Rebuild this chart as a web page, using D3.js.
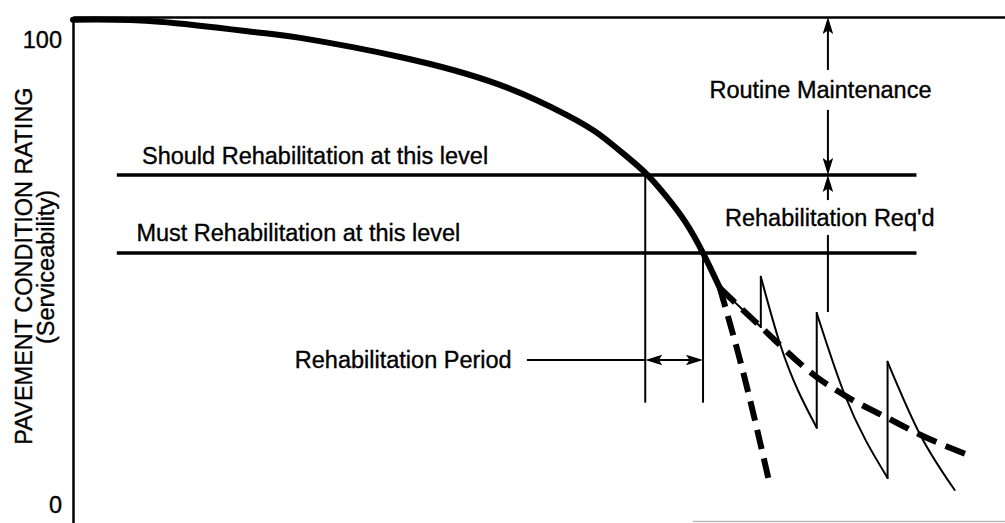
<!DOCTYPE html>
<html>
<head>
<meta charset="utf-8">
<script src="https://cdn.jsdelivr.net/npm/d3@7"></script>
<style>
  body { margin: 0; background: #fff; }
  svg { display: block; font-family: "Liberation Sans", Arial, Helvetica, sans-serif; }
  .lbl { font-size: 23.5px; fill: #000; stroke: #000; stroke-width: 0.35px; }
</style>
</head>
<body>
<div id="chart"></div>
<script>
// deterioration curve (years, rating)
const curveYears  = [0, 9.3, 20.1, 24.4, 35.1, 45.8, 53.0, 56.5, 59.4, 61.6, 63.7, 65.7, 67.6, 69.4];
const curveRating = [104.4, 104.0, 101.6, 100.5, 96.4, 90.4, 83.9, 79.7, 75.0, 71.1, 66.3, 60.9, 54.2, 46.7];

// no rehabilitation: fast drop
const fastYears  = [69.4, 71.9, 74.6];
const fastRating = [46.7, 28.6, 5.8];

// slower trend after rehabilitation
const slowYears  = [69.4, 73.8, 79.8, 83.1, 87.4, 90.9, 95.7];
const slowRating = [46.7, 38.3, 27.5, 23.2, 18.7, 15.1, 11.0];

// sawtooth: repeated rehabilitation
const sawYears  = [69.4, 73.8, 73.8, 75.9, 79.8, 79.8, 82.8, 87.4, 87.4, 90.9, 94.6];
const sawRating = [46.7, 38.3, 49.1, 34.4, 16.6, 41.3, 23.7, 5.8, 30.8, 15.1, 3.2];

const levelNames  = ['Should Rehabilitation at this level', 'Must Rehabilitation at this level'];
const levelRating = [71.0, 54.2];
const levelSpan   = [4.7, 90.5];
const periodYears = [61.4, 67.6];
const yTicks = [0, 100];

const width = 1005, height = 523;

const svg = d3.select('#chart')
  .append('svg')
    .attr('width', width)
    .attr('height', height);

const x = d3.scaleLinear().domain([0, 100]).range([73, 1005]);
const y = d3.scaleLinear().domain([-3.9, 105]).range([523, 17]);

const line = d3.line()
  .x(d => x(d[0]))
  .y(d => y(d[1]));
const smooth = d3.line()
  .x(d => x(d[0]))
  .y(d => y(d[1]))
  .curve(d3.curveMonotoneX);

const zip = (a, b) => a.map((v, i) => [v, b[i]]);

// axes
const yAxis = svg.append('g')
  .attr('transform', `translate(${x(0)},0)`)
  .call(d3.axisLeft(y).tickValues(yTicks).tickSize(0).tickPadding(11).tickFormat(d => d));
yAxis.select('.domain').attr('stroke', '#000').attr('stroke-width', 2.5);
yAxis.selectAll('text').attr('class', 'lbl').attr('font-size', null).attr('font-family', null);

const topAxis = svg.append('g')
  .attr('transform', `translate(0,${y(105)})`)
  .call(d3.axisTop(x).tickValues([]).tickSizeOuter(0));
topAxis.select('.domain').attr('stroke', '#000').attr('stroke-width', 2.5);

// faint remains of the bottom edge
svg.append('line')
  .attr('x1', x(66.5)).attr('x2', x(100))
  .attr('y1', height - 1.5).attr('y2', height - 1.5)
  .attr('stroke', '#bbb').attr('stroke-width', 1.5);

// y title
svg.append('text').attr('class', 'lbl')
  .attr('transform', 'translate(24,266) rotate(-90)')
  .attr('text-anchor', 'middle').attr('dy', '0.35em')
  .text('PAVEMENT CONDITION RATING');
svg.append('text').attr('class', 'lbl')
  .attr('transform', 'translate(46,267) rotate(-90)')
  .attr('text-anchor', 'middle').attr('dy', '0.35em')
  .text('(Serviceability)');

// rehabilitation levels
levelRating.forEach(v => {
  svg.append('line')
    .attr('x1', x(levelSpan[0])).attr('x2', x(levelSpan[1]))
    .attr('y1', y(v)).attr('y2', y(v))
    .attr('stroke', '#000').attr('stroke-width', 3.5);
});
svg.append('text').attr('class', 'lbl').attr('x', x(7.4)).attr('y', y(75.1)).attr('dy', '0.35em').text(levelNames[0]);
svg.append('text').attr('class', 'lbl').attr('x', x(6.8)).attr('y', y(58.5)).attr('dy', '0.35em').text(levelNames[1]);

// period verticals
periodYears.forEach((t, i) => {
  svg.append('line')
    .attr('x1', x(t)).attr('x2', x(t))
    .attr('y1', y(levelRating[i])).attr('y2', y(22.0))
    .attr('stroke', '#000').attr('stroke-width', 2);
});

function arrowHead(px, py, dx, dy) {
  const L = 17, W = 10.5;
  const nx = -dy, ny = dx;
  const bx = px - dx * L, by = py - dy * L;
  svg.append('path')
    .attr('d', `M${px},${py}L${bx + nx * W / 2},${by + ny * W / 2}L${px - dx * L * 0.8},${py - dy * L * 0.8}L${bx - nx * W / 2},${by - ny * W / 2}Z`)
    .attr('fill', '#000');
}
function seg(x1, y1, x2, y2, w) {
  svg.append('line')
    .attr('x1', x1).attr('y1', y1).attr('x2', x2).attr('y2', y2)
    .attr('stroke', '#000').attr('stroke-width', w || 2);
}

// rehabilitation period arrow
const py = y(31.2);
seg(x(48.7), py, x(periodYears[0]), py);
seg(x(periodYears[0]) + 4, py, x(periodYears[1]) - 4, py);
arrowHead(x(periodYears[0]), py, -1, 0);
arrowHead(x(periodYears[1]), py, 1, 0);
svg.append('text').attr('class', 'lbl').attr('x', x(23.8)).attr('y', py).attr('dy', '0.35em').text('Rehabilitation Period');

// routine maintenance / rehab req'd arrows
const ax = x(81.0);
seg(ax, y(93.6), ax, y(105) + 6);
arrowHead(ax, y(105), 0, -1);
seg(ax, y(85.0), ax, y(levelRating[0]) - 6);
arrowHead(ax, y(levelRating[0]), 0, 1);
seg(ax, y(65.6), ax, y(levelRating[0]) + 6);
arrowHead(ax, y(levelRating[0]), 0, -1);
seg(ax, y(58.1), ax, y(41.5));
svg.append('text').attr('class', 'lbl').attr('x', x(80.2)).attr('y', y(89.3)).attr('dy', '0.35em')
  .attr('text-anchor', 'middle').text('Routine Maintenance');
svg.append('text').attr('class', 'lbl').attr('x', x(81.2)).attr('y', y(61.8)).attr('dy', '0.35em')
  .attr('text-anchor', 'middle').text("Rehabilitation Req'd");

// sawtooth
const saw = zip(sawYears, sawRating);
const pieces = [[saw[0]]], jumps = [];
for (let i = 1; i < saw.length; i++) {
  if (saw[i][0] === saw[i - 1][0]) {
    jumps.push([saw[i - 1], saw[i]]);
    pieces.push([saw[i]]);
  } else {
    pieces[pieces.length - 1].push(saw[i]);
  }
}
pieces.concat(jumps).forEach(p => {
  svg.append('path')
    .attr('d', (p.length > 2 ? smooth : line)(p))
    .attr('fill', 'none').attr('stroke', '#000').attr('stroke-width', 2)
    .attr('stroke-linejoin', 'round').attr('stroke-linecap', 'round');
});

// dashed trends, dash pattern stretched so both ends finish on a dash
[zip(fastYears, fastRating), zip(slowYears, slowRating)].forEach(p => {
  const path = svg.append('path')
    .attr('d', smooth(p))
    .attr('fill', 'none').attr('stroke', '#000').attr('stroke-width', 6);
  const len = path.node().getTotalLength();
  const n = Math.max(1, Math.round((len + 10) / 31));
  const k = len / (n * 21 + (n - 1) * 10);
  path.attr('stroke-dasharray', `${21 * k},${10 * k}`);
});

// main curve
svg.append('path')
  .attr('d', smooth.curve(d3.curveNatural)(zip(curveYears, curveRating)))
  .attr('fill', 'none').attr('stroke', '#000').attr('stroke-width', 6)
  .attr('stroke-linecap', 'round');
</script>
</body>
</html>
